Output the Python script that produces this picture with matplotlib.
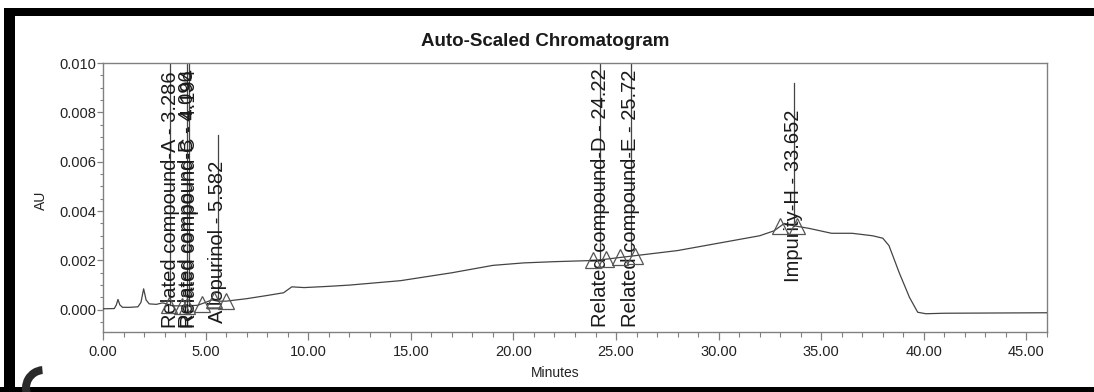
import matplotlib.pyplot as plt
import numpy as np
from matplotlib.patches import Rectangle, Wedge
from matplotlib.transforms import IdentityTransform

plt.rcParams['font.family'] = ['Liberation Sans', 'DejaVu Sans']

# chromatogram trace (minutes, AU)
time_min = [0.0, 0.55, 0.65, 0.73, 0.82, 0.95, 1.3, 1.7, 1.85, 1.98, 2.1, 2.25,
            2.6, 2.9, 3.1, 3.4, 4.0, 4.6, 5.0, 5.3, 5.6, 6.0, 7.0, 8.0, 8.8,
            9.2, 9.8, 11.0, 12.0, 14.5, 17.0, 19.0, 20.5, 22.0, 24.0, 25.0,
            26.0, 28.0, 30.0, 32.0, 32.7, 33.2, 33.7, 34.4, 35.5, 36.5, 37.5,
            38.0, 38.3, 38.8, 39.3, 39.7, 40.1, 41.0, 46.0]
absorbance = [0.00004, 0.00005, 0.0002, 0.00042, 0.0002, 0.0001, 0.0001, 0.00012,
              0.0003, 0.00085, 0.0004, 0.00024, 0.00022, 0.00028, 0.00024, 0.00016,
              0.00016, 0.00018, 0.0003, 0.0004, 0.00035, 0.00035, 0.00045, 0.00058,
              0.00069, 0.00093, 0.0009, 0.00095, 0.001, 0.00118, 0.0015, 0.0018,
              0.0019, 0.00195, 0.002, 0.0021, 0.0022, 0.0024, 0.0027, 0.003,
              0.0032, 0.0035, 0.0034, 0.0033, 0.0031, 0.0031, 0.003, 0.0029,
              0.0026, 0.0015, 0.0005, -0.0001, -0.00016, -0.00014, -0.00012]

peak_names = ["Related compound-A", "Related compound-B", "Related compound-C",
              "Allopurinol", "Related compound-D", "Related compound-E", "Impurity-H"]
peak_times = [3.286, 4.096, 4.194, 5.582, 24.22, 25.72, 33.652]
peak_rt_text = ["3.286", "4.096", "4.194", "5.582", "24.22", "25.72", "33.652"]

# baseline start / end marks (triangles)
baseline_marks = [3.2, 3.83, 4.07, 4.8, 5.43, 6.0, 23.9, 24.5, 25.2, 25.9, 33.0, 33.8]

x_ticks = [0, 5, 10, 15, 20, 25, 30, 35, 40, 45]
y_ticks = [0.000, 0.002, 0.004, 0.006, 0.008, 0.010]

# layout of the peak labels
label_bottom = [-0.00073, -0.00073, -0.00073, -0.00053, -0.00069, -0.00069, 0.00113]
line_top = [0.0100, 0.0100, 0.0100, 0.0071, 0.0100, 0.0100, 0.0092]

W, H = 1094, 392
fig = plt.figure(figsize=(W / 100, H / 100), dpi=100)
ax = fig.add_axes([103 / W, 1 - 332 / H, 944 / W, 269 / H])

trace_color = '#444444'
ax.plot(time_min, absorbance, color=trace_color, lw=0.9, zorder=3)

for name, t, rt, yb, yt in zip(peak_names, peak_times, peak_rt_text, label_bottom, line_top):
    y0 = np.interp(t, time_min, absorbance)
    ax.plot([t, t], [y0, yt], color=trace_color, lw=0.9, zorder=2)
    ax.text(t, yb, f"{name} - {rt}", rotation=90, ha='center', va='bottom',
            fontsize=14.5, color='#1a1a1a', zorder=4)

mark_y = np.interp(baseline_marks, time_min, absorbance)
ax.plot(baseline_marks, mark_y, ls='none', marker='^', ms=11, mfc='none',
        mec='#555555', mew=0.9, zorder=5)

ax.set_xlim(0, 46)
ax.set_ylim(-0.0009, 0.010)
ax.set_xticks(x_ticks)
ax.set_xticklabels([f"{v:.2f}" for v in x_ticks])
ax.set_xticks(np.arange(0, 47, 1), minor=True)
ax.set_yticks(y_ticks)
ax.set_yticklabels([f"{v:.3f}" for v in y_ticks])
ax.set_yticks(np.arange(-0.0005, 0.0101, 0.0005), minor=True)

for s in ax.spines.values():
    s.set_color('#808080')
    s.set_linewidth(1.0)
ax.tick_params(axis='x', which='major', direction='out', length=6, width=0.9,
               color='#808080', labelsize=10.5, pad=3.5, labelcolor='#222222')
ax.tick_params(axis='x', which='minor', direction='out', length=3.5, width=0.8, color='#808080')
ax.tick_params(axis='y', which='major', direction='out', length=4.5, width=0.9,
               color='#808080', labelsize=10.5, pad=0.5, labelcolor='#222222')
ax.tick_params(axis='y', which='minor', direction='out', length=2.5, width=0.8, color='#808080')

ax.set_xlabel('Minutes', fontsize=10, color='#222222')
ax.xaxis.set_label_coords((555 - 103) / 944, -0.125)
ax.set_ylabel('AU', fontsize=10, color='#222222')
ax.yaxis.set_label_coords((48 - 103) / 944, 0.49)

fig.text(545 / W, 1 - 42 / H, 'Auto-Scaled Chromatogram', ha='center', va='center',
         fontsize=13.5, fontweight='bold', color='#1a1a1a')

# black frame of the scanned page
fig.add_artist(Rectangle((7 / W, 1 - 16 / H), 1, 8 / H, transform=fig.transFigure,
                         color='black', lw=0))
fig.add_artist(Rectangle((4 / W, 0), 11 / W, 1 - 8 / H, transform=fig.transFigure,
                         color='black', lw=0))
fig.add_artist(Rectangle((0, 0), 1, 5 / H, transform=fig.transFigure,
                         color='black', lw=0))
fig.add_artist(Wedge((44, 4), 22, 95, 205, width=8, transform=IdentityTransform(),
                     color='#2a2a2a', lw=0))

fig.savefig('out.png', dpi=100)
